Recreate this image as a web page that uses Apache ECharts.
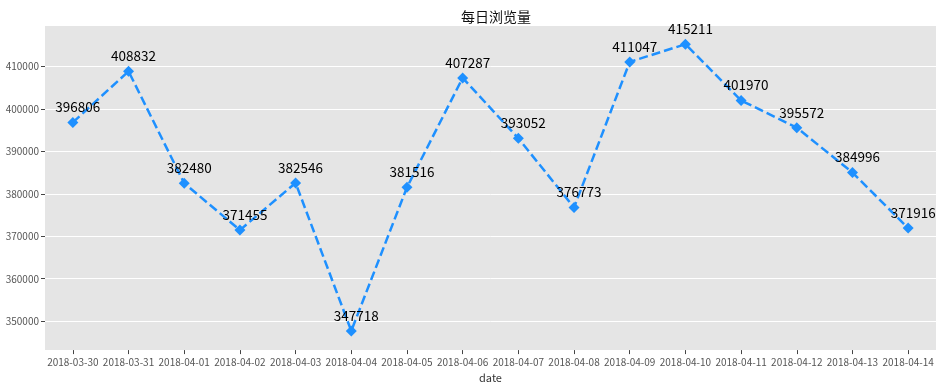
<!DOCTYPE html>
<html>
<head>
<meta charset="utf-8">
<script src="https://cdn.jsdelivr.net/npm/echarts@6/dist/echarts.min.js"></script>
<style>html,body{margin:0;padding:0;background:#fff;}#c{width:944px;height:388px;}</style>
</head>
<body>
<div id="c"></div>
<script>
const dates = ['2018-03-30','2018-03-31','2018-04-01','2018-04-02','2018-04-03','2018-04-04','2018-04-05','2018-04-06','2018-04-07','2018-04-08','2018-04-09','2018-04-10','2018-04-11','2018-04-12','2018-04-13','2018-04-14'];
const views = [396806,408832,382480,371455,382546,347718,381516,407287,393052,376773,411047,415211,401970,395572,384996,371916];
const yTicks = [350000,360000,370000,380000,390000,400000,410000];
const titleText = '每日浏览量';
const xName = 'date';

const FONT = '"Noto Sans CJK SC", "DejaVu Sans", sans-serif';
const chart = echarts.init(document.getElementById('c'), null, {renderer: 'canvas'});
chart.setOption({
  animation: false,
  backgroundColor: '#ffffff',
  textStyle: {fontFamily: FONT},
  title: {
    text: titleText,
    left: 491, top: 5, textAlign: 'center',
    textStyle: {fontSize: 14, fontWeight: 'normal', color: '#111', fontFamily: FONT}
  },
  grid: {
    left: 45, right: 8, top: 26, bottom: 37,
    show: true, backgroundColor: '#e5e5e5', borderWidth: 0
  },
  xAxis: {
    type: 'category',
    data: dates,
    boundaryGap: true,
    name: xName,
    nameLocation: 'middle',
    nameGap: 16,
    nameTextStyle: {fontSize: 11, color: '#333', fontFamily: FONT},
    axisLine: {show: false},
    axisTick: {show: true, alignWithLabel: true, length: 4, lineStyle: {color: '#444', width: 1}},
    axisLabel: {fontSize: 10, color: '#555', margin: 7, interval: 0, fontFamily: FONT},
    splitLine: {show: false}
  },
  yAxis: {
    type: 'value',
    min: 343200,
    max: 419500,
    axisLine: {show: false},
    axisTick: {show: true, length: 4, lineStyle: {color: '#444', width: 1}, customValues: yTicks},
    axisLabel: {fontSize: 10, color: '#555', margin: 6, customValues: yTicks, fontFamily: FONT,
      formatter: v => String(v)},
    splitLine: {show: true, lineStyle: {color: '#ffffff', width: 1}}
  },
  series: [{
    type: 'line',
    data: views,
    symbol: 'diamond',
    symbolSize: 11,
    itemStyle: {color: '#1E90FF'},
    lineStyle: {color: '#1E90FF', width: 2.5, type: [9, 4]},
    label: {
      show: true, position: 'top', distance: 3, offset: [5, 0],
      fontSize: 13.5, color: '#000', fontFamily: FONT
    }
  }]
});
</script>
</body>
</html>
